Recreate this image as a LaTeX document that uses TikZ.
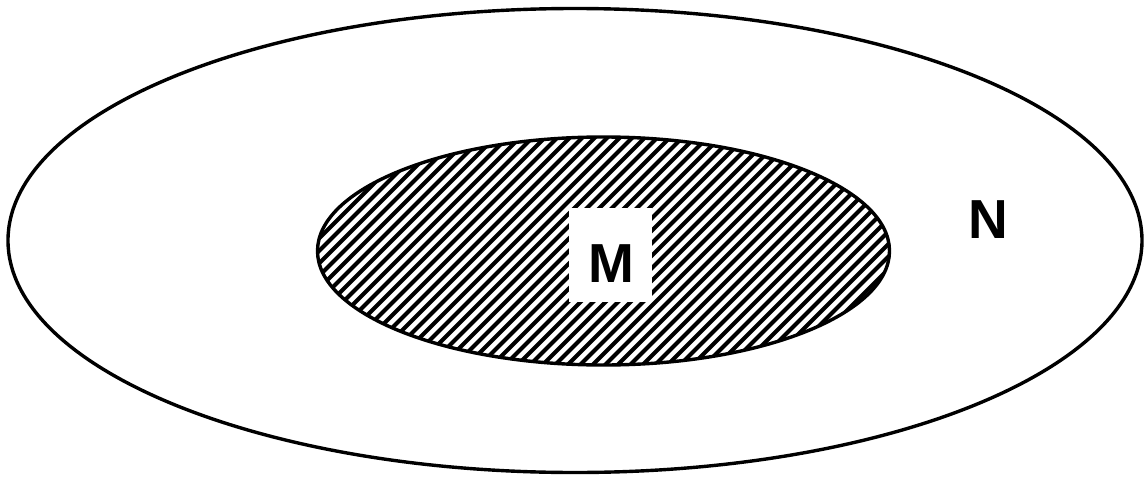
\documentclass[tikz,border=0pt]{standalone}
\usepackage{fontspec}
\setmainfont{Liberation Sans}
\begin{document}
\begin{tikzpicture}[x=0.5pt,y=-0.5pt,
  outline/.style={line width=1.7pt},
  hatch/.style={line width=2.1pt},
  lbl/.style={inner sep=0pt, font=\fontsize{27.5}{31}\selectfont\bfseries}]
\useasboundingbox (0,0) rectangle (1148,477);
\fill[white] (0,0) rectangle (1148,477);
\coordinate (oc) at (575,240.5);
\coordinate (ic) at (603.5,251);
\draw[outline] (oc) ellipse [x radius=567, y radius=232];
\begin{scope}
\clip (ic) ellipse [x radius=286, y radius=114];
\foreach \i in {0,...,75}
  \draw[hatch] (90+\i*12.5,380) -- ++(260,-260);
\end{scope}
\draw[outline] (ic) ellipse [x radius=286, y radius=114];
\node[fill=white, minimum width=41.5pt, minimum height=47pt, inner sep=0pt] (mbox) at (610.5,255) {};
\node[lbl] (M) at (611,263.5) {M};
\node[lbl] (N) at (988,219.5) {N};
\end{tikzpicture}
\end{document}
